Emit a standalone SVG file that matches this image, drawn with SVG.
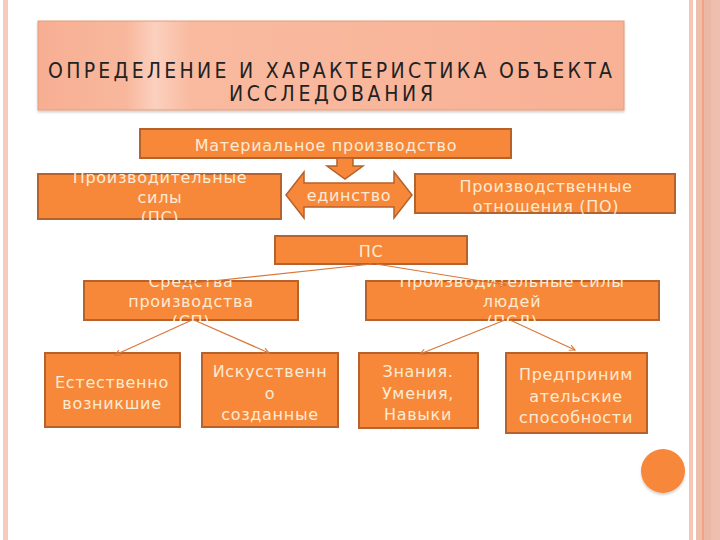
<svg xmlns="http://www.w3.org/2000/svg" width="720" height="540" viewBox="0 0 720 540">
  <style>
    .box { fill: #F7883A; stroke: #B5622C; stroke-width: 2; }
    .t { font-family: "DejaVu Sans", Verdana, sans-serif; font-size: 16px; fill: #FCEBD3; text-anchor: middle; letter-spacing: 0.7px; }
    .title { font-family: "DejaVu Sans Condensed", "DejaVu Sans", sans-serif; font-size: 21px; fill: #222222; text-anchor: middle; }
    .conn { fill: none; stroke: #D9773A; stroke-width: 1.2; }
  </style>
  <defs>
    <linearGradient id="tg" x1="0" y1="0" x2="1" y2="0">
      <stop offset="0" stop-color="#F7AF93"/>
      <stop offset="0.15" stop-color="#F8B79C"/>
      <stop offset="0.2" stop-color="#FBD0BE"/>
      <stop offset="0.26" stop-color="#F9BAA0"/>
      <stop offset="1" stop-color="#F8B195"/>
    </linearGradient>
    <marker id="ah" viewBox="0 0 10 10" refX="9" refY="5" markerWidth="7" markerHeight="7" markerUnits="userSpaceOnUse" orient="auto">
      <path d="M1,1 L9,5 L1,9" fill="none" stroke="#D9773A" stroke-width="1.6"/>
    </marker>
    <filter id="sh" x="-20%" y="-20%" width="140%" height="150%">
      <feDropShadow dx="0" dy="2" stdDeviation="1" flood-color="#000" flood-opacity="0.18"/>
    </filter>
  </defs>

  <rect x="0" y="0" width="720" height="540" fill="#FFFFFF"/>

  <!-- page borders -->
  <g id="borders">
    <rect x="3" y="0" width="5" height="540" fill="#F9C9BC"/>
    <rect x="689" y="0" width="4" height="540" fill="#F5C6B6"/>
    <rect x="696" y="0" width="24" height="540" fill="#EEBFAD"/>
    <rect x="702" y="0" width="2" height="540" fill="#F2A27E"/>
    <rect x="704" y="0" width="7" height="540" fill="#EAB8A5"/>
  </g>

  <!-- title -->
  <g id="title">
    <rect x="38" y="21" width="586" height="89" fill="url(#tg)" stroke="#E39C78" stroke-width="1" filter="url(#sh)"/>
    <text class="title" x="330" y="78" textLength="564" lengthAdjust="spacing">ОПРЕДЕЛЕНИЕ И ХАРАКТЕРИСТИКА ОБЪЕКТА</text>
    <text class="title" x="331" y="101" textLength="204" lengthAdjust="spacing">ИССЛЕДОВАНИЯ</text>
  </g>

  <g id="material">
    <rect class="box" x="140" y="129" width="371" height="29"/>
    <text class="t" x="326" y="151">Материальное производство</text>
  </g>

  <g id="ps-top">
    <rect class="box" x="38" y="174" width="243" height="45"/>
    <text class="t" x="160" y="183">Производительные</text>
    <text class="t" x="160" y="203">силы</text>
    <text class="t" x="160" y="223">(ПС)</text>
    <rect x="37" y="160" width="246" height="13" fill="#FFFFFF"/>
    <rect x="37" y="220" width="246" height="14" fill="#FFFFFF"/>
  </g>

  <g id="unity">
    <path d="M286,195 L304,172 L304,183 L394,183 L394,172 L412,195 L394,218 L394,207 L304,207 L304,218 Z" fill="#F7883A" stroke="#B5622C" stroke-width="1.5"/>
    <text class="t" x="349" y="201">единство</text>
  </g>

  <g id="po">
    <rect class="box" x="415" y="174" width="260" height="39"/>
    <text class="t" x="546" y="192">Производственные</text>
    <text class="t" x="546" y="212">отношения (ПО)</text>
  </g>

  <g id="ps">
    <rect class="box" x="275" y="236" width="192" height="28"/>
    <text class="t" x="371" y="257">ПС</text>
  </g>

  <g id="sp">
    <rect class="box" x="84" y="281" width="214" height="39"/>
    <text class="t" x="191" y="287">Средства</text>
    <text class="t" x="191" y="307">производства</text>
    <text class="t" x="191" y="327">(СП)</text>
    <rect x="83" y="266" width="217" height="14" fill="#FFFFFF"/>
    <rect x="83" y="321" width="217" height="12" fill="#FFFFFF"/>
  </g>

  <g id="psl">
    <rect class="box" x="366" y="281" width="293" height="39"/>
    <text class="t" x="512" y="287">Производительные силы</text>
    <text class="t" x="512" y="307">людей</text>
    <text class="t" x="512" y="327">(ПСЛ)</text>
    <rect x="365" y="266" width="296" height="14" fill="#FFFFFF"/>
    <rect x="365" y="321" width="296" height="12" fill="#FFFFFF"/>
  </g>

  <g id="natural">
    <rect class="box" x="45" y="353" width="135" height="74"/>
    <text class="t" x="112" y="388">Естественно</text>
    <text class="t" x="112" y="409">возникшие</text>
  </g>

  <g id="artificial">
    <rect class="box" x="202" y="353" width="136" height="74"/>
    <text class="t" x="270" y="377">Искусственн</text>
    <text class="t" x="270" y="399">о</text>
    <text class="t" x="270" y="420">созданные</text>
  </g>

  <g id="knowledge">
    <rect class="box" x="359" y="353" width="119" height="75"/>
    <text class="t" x="418" y="377">Знания.</text>
    <text class="t" x="418" y="399">Умения,</text>
    <text class="t" x="418" y="420">Навыки</text>
  </g>

  <g id="entrepreneur">
    <rect class="box" x="506" y="353" width="141" height="80"/>
    <text class="t" x="576" y="380">Предприним</text>
    <text class="t" x="576" y="402">ательские</text>
    <text class="t" x="576" y="423">способности</text>
  </g>

  <g id="connectors">
    <path d="M337,158 L337,166 L327,166 L345,179 L363,166 L353,166 L353,158 Z" fill="#F7883A" stroke="#B5622C" stroke-width="1.5"/>
    <line class="conn" x1="372" y1="264" x2="184" y2="284" marker-end="url(#ah)"/>
    <line class="conn" x1="376" y1="264" x2="506" y2="285" marker-end="url(#ah)"/>
    <line class="conn" x1="192" y1="320" x2="115" y2="355" marker-end="url(#ah)"/>
    <line class="conn" x1="194" y1="320" x2="269" y2="353" marker-end="url(#ah)"/>
    <line class="conn" x1="505" y1="320" x2="420" y2="354" marker-end="url(#ah)"/>
    <line class="conn" x1="510" y1="320" x2="575" y2="350" marker-end="url(#ah)"/>
  </g>

  <g id="dot">
    <circle cx="663" cy="471" r="22" fill="#F7883A" filter="url(#sh)"/>
  </g>
</svg>
